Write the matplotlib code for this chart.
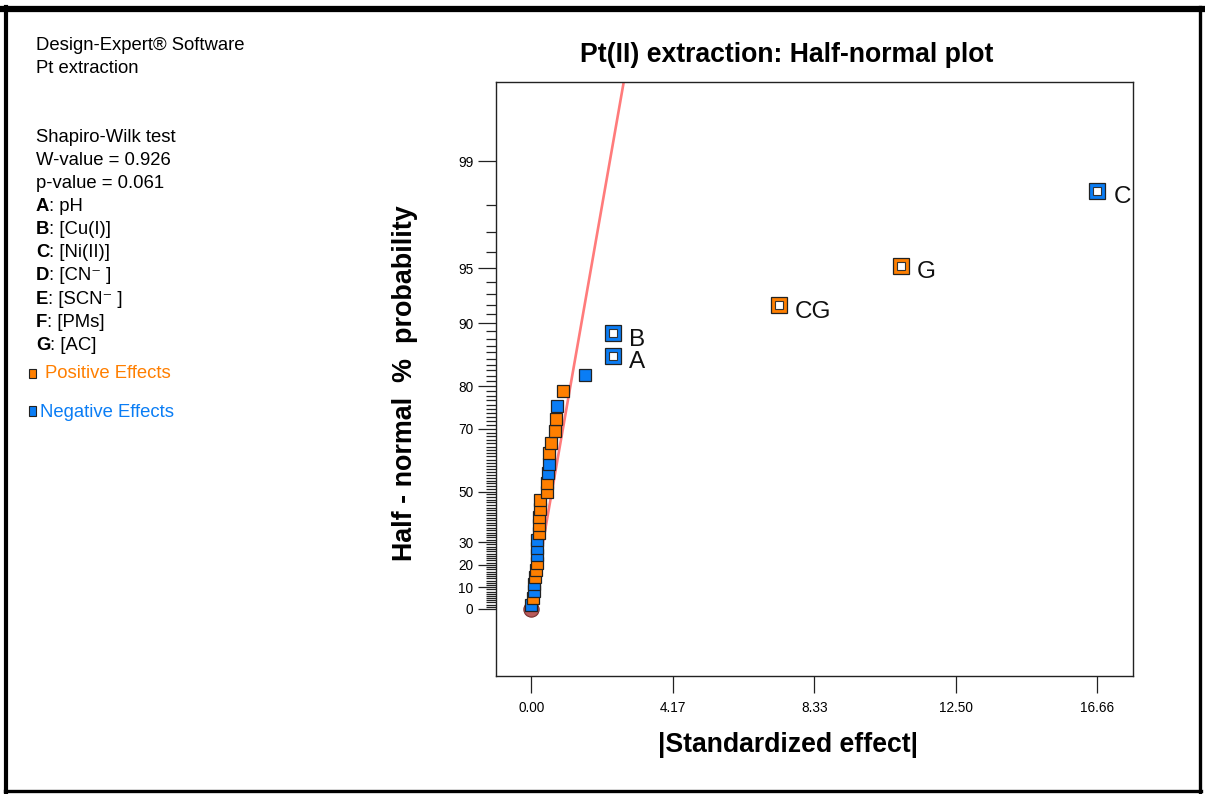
import math
import numpy as np
import matplotlib
matplotlib.use("Agg")
import matplotlib.pyplot as plt
from matplotlib.lines import Line2D
from matplotlib.patches import Rectangle

# ---------------- data ----------------
# signed standardized effects, sorted by |effect| (orange = positive, blue = negative)
effects = [-0.003, 0.04, -0.08, -0.09, 0.11, 0.14, 0.16, -0.17, -0.18, -0.18,
           0.23, 0.24, 0.24, 0.26, 0.26, 0.45, 0.45, -0.48, -0.53, 0.53,
           0.58, 0.71, 0.74, -0.77, 0.93, -1.59, -2.40, -2.41, 7.28, 10.88, -16.66]
# half-normal % probability of each effect
half_normal_pct = [1.61, 4.84, 8.06, 11.29, 14.52, 17.74, 20.97, 24.19, 27.42, 30.65,
                   33.87, 37.10, 40.32, 43.55, 46.77, 50.00, 53.23, 56.45, 59.68, 62.90,
                   66.13, 69.35, 72.58, 75.81, 79.03, 82.26, 85.48, 88.71, 91.94, 95.16, 98.39]
effect_names = [""] * 26 + ["A", "B", "CG", "G", "C"]
fit_slope = 0.897          # |effect| per unit of half-normal score (red line)
x_ticks = [0.00, 4.17, 8.33, 12.50, 16.66]
x_tick_labels = ["0.00", "4.17", "8.33", "12.50", "16.66"]
y_major = [0, 10, 20, 30, 50, 70, 80, 90, 95, 99]
y_minor = [v for v in range(1, 99) if v not in y_major]

info_lines = [("", "Design-Expert\u00ae Software"), ("", "Pt extraction"), ("", ""), ("", ""),
              ("", "Shapiro-Wilk test"), ("", "W-value = 0.926"), ("", "p-value = 0.061"),
              ("A", ": pH"), ("B", ": [Cu(I)]"), ("C", ": [Ni(II)]"), ("D", ": [CN\u207b ]"),
              ("E", ": [SCN\u207b ]"), ("F", ": [PMs]"), ("G", ": [AC]")]

ORANGE = "#FF7F00"
BLUE = "#0A7DF5"
FONT = ["Liberation Sans", "DejaVu Sans"]
plt.rcParams["font.family"] = FONT

# ---------------- half-normal probability scale ----------------
_erf = np.vectorize(math.erf, otypes=[float])


def norm_cdf(z):
    z = np.asarray(z, dtype=float)
    return 0.5 * (1.0 + _erf(z / math.sqrt(2.0)))


def norm_ppf(q):
    q = np.clip(np.asarray(q, dtype=float), 1e-15, 1 - 1e-15)
    lo = np.full_like(q, -12.0)
    hi = np.full_like(q, 12.0)
    for _ in range(70):
        mid = 0.5 * (lo + hi)
        below = norm_cdf(mid) < q
        lo = np.where(below, mid, lo)
        hi = np.where(below, hi, mid)
    return 0.5 * (lo + hi)


def forward(p):
    return norm_ppf(0.5 + np.asarray(p, dtype=float) / 200.0)


def inverse(z):
    return 200.0 * norm_cdf(z) - 100.0


# ---------------- figure ----------------
W, H = 1205, 794
fig = plt.figure(figsize=(W / 100, H / 100), dpi=100)
fig.patch.set_facecolor("white")


def fx(px):
    return px / W


def fy(py):
    return 1 - py / H


ax = fig.add_axes([fx(495.7), fy(675.7), fx(1132.7) - fx(495.7), fy(81.7) - fy(675.7)])
ax.set_yscale("function", functions=(forward, inverse))
ax.set_xlim(-1.048, 17.70)
ax.set_ylim(inverse(-0.384), inverse(3.034))

# fit line through the origin
p_line = np.array([0.0, 99.95])
ax.plot(fit_slope * forward(p_line), p_line, color="#FF7B7B", lw=1.9, zorder=2, solid_capstyle="butt")
ax.plot([0], [0], marker="o", ms=11, mfc="#B85A5A", mec="#7a3030", mew=0.8, zorder=2.5)

abs_eff = [abs(e) for e in effects]
for i, (x, p, e, name) in enumerate(zip(abs_eff, half_normal_pct, effects, effect_names)):
    col = ORANGE if e > 0 else BLUE
    if name:
        ax.plot([x], [p], marker="s", ms=11.2, mfc=col, mec="#222222", mew=0.9, zorder=3 + i * 0.01)
        ax.plot([x], [p], marker="s", ms=6.0, mfc="white", mec="#333333", mew=0.8, zorder=3.005 + i * 0.01)
        ax.annotate(name, (x, p), xytext=(11.5, -4.5), textcoords="offset points",
                    ha="left", va="center", fontsize=17.5, color="#111111")
    else:
        ax.plot([x], [p], marker="s", ms=9.0, mfc=col, mec="#222222", mew=0.9, zorder=3 + i * 0.01)

ax.set_xticks(x_ticks)
ax.set_xticklabels(x_tick_labels)
ax.set_yticks(y_major)
ax.set_yticklabels([str(v) for v in y_major])
ax.set_yticks(y_minor, minor=True)
ax.tick_params(axis="x", which="major", direction="out", length=12.3, width=0.9, color="#222222",
               labelsize=9.8, pad=6)
ax.tick_params(axis="y", which="major", direction="out", length=13, width=0.9, color="#222222",
               labelsize=9.8, pad=3)
ax.tick_params(axis="y", which="minor", direction="out", length=7.2, width=0.9, color="#222222")
ax.tick_params(axis="x", which="minor", bottom=False)
for s in ax.spines.values():
    s.set_linewidth(1.0)
    s.set_color("#222222")

# titles
fig.text(fx(787), fy(55), "Pt(II) extraction: Half-normal plot", ha="center", va="center",
         fontsize=19.2, fontweight="bold")
fig.text(fx(787.5), fy(745), "|Standardized effect|", ha="center", va="center",
         fontsize=19.2, fontweight="bold")
fig.text(fx(405), fy(383), "Half - normal  %  probability", ha="center", va="center",
         rotation=90, fontsize=19.4, fontweight="bold")

# info block
renderer = fig.canvas.get_renderer()
y0, dy = 45, 23.1
for k, (bold, rest) in enumerate(info_lines):
    yy = fy(y0 + k * dy)
    xx = fx(36)
    if bold:
        t = fig.text(xx, yy, bold, ha="left", va="center", fontsize=13.3, fontweight="bold")
        bb = t.get_window_extent(renderer)
        xx = bb.x1 / W
    if rest:
        fig.text(xx, yy, rest, ha="left", va="center", fontsize=13.3)

fig.text(fx(45), fy(374), "Positive Effects", ha="left", va="center", fontsize=13.3, color=ORANGE)
fig.text(fx(40), fy(412), "Negative Effects", ha="left", va="center", fontsize=13.3, color=BLUE)
fig.add_artist(Rectangle((fx(29), fy(378)), fx(7), fy(369) - fy(378), transform=fig.transFigure,
                         facecolor=ORANGE, edgecolor="#222222", lw=0.8))
fig.add_artist(Rectangle((fx(29), fy(416)), fx(7), fy(406) - fy(416), transform=fig.transFigure,
                         facecolor=BLUE, edgecolor="#222222", lw=0.8))

# frame around the whole picture
fig.add_artist(Line2D([fx(3), fx(1202)], [fy(9), fy(9)], color="black", lw=4.5, transform=fig.transFigure))
fig.add_artist(Line2D([fx(6), fx(6)], [fy(7), fy(792)], color="black", lw=3.0, transform=fig.transFigure))
fig.add_artist(Line2D([fx(1200), fx(1200)], [fy(7), fy(792)], color="black", lw=2.4, transform=fig.transFigure))
fig.add_artist(Line2D([fx(5), fx(1201)], [fy(790.5), fy(790.5)], color="black", lw=2.4, transform=fig.transFigure))

fig.savefig("out.png", dpi=100, facecolor="white")
